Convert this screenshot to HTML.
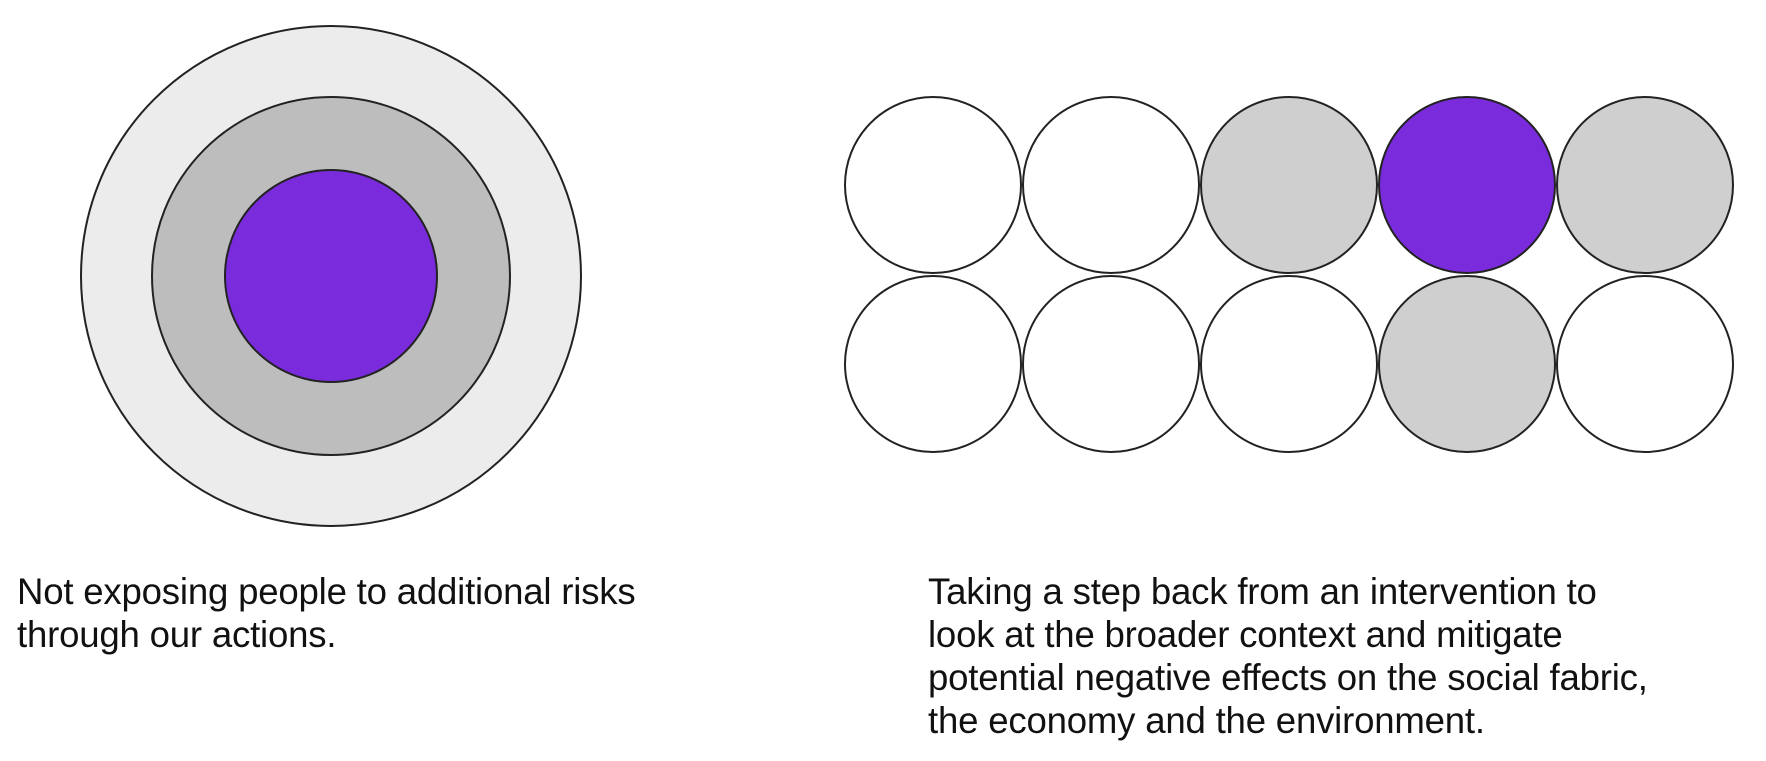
<!DOCTYPE html>
<html><head><meta charset="utf-8"><style>
html,body{margin:0;padding:0;background:#fff;width:1766px;height:761px;overflow:hidden;position:relative}
svg{position:absolute;left:0;top:0}
.t{position:absolute;font-family:"Liberation Sans",sans-serif;font-size:36.6px;line-height:43px;color:#111;white-space:nowrap;letter-spacing:-0.2px}
</style></head><body>
<svg width="1766" height="761" viewBox="0 0 1766 761">
<g stroke="#222" stroke-width="2">
<circle cx="331" cy="276" r="250" fill="#ececec"/>
<circle cx="331" cy="276" r="179" fill="#bdbdbd"/>
<circle cx="331" cy="276" r="106" fill="#7a2bdc"/>
<circle cx="933" cy="185" r="88" fill="#fff"/>
<circle cx="1111" cy="185" r="88" fill="#fff"/>
<circle cx="1289" cy="185" r="88" fill="#cfcfcf"/>
<circle cx="1467" cy="185" r="88" fill="#7a2bdc"/>
<circle cx="1645" cy="185" r="88" fill="#cfcfcf"/>
<circle cx="933" cy="364" r="88" fill="#fff"/>
<circle cx="1111" cy="364" r="88" fill="#fff"/>
<circle cx="1289" cy="364" r="88" fill="#fff"/>
<circle cx="1467" cy="364" r="88" fill="#cfcfcf"/>
<circle cx="1645" cy="364" r="88" fill="#fff"/>
</g>
</svg>
<div class="t" style="left:17px;top:570px">Not exposing people to additional risks<br>through our actions.</div>
<div class="t" style="left:928px;top:570px">Taking a step back from an intervention to<br>look at the broader context and mitigate<br>potential negative effects on the social fabric,<br>the economy and the environment.</div>
</body></html>
